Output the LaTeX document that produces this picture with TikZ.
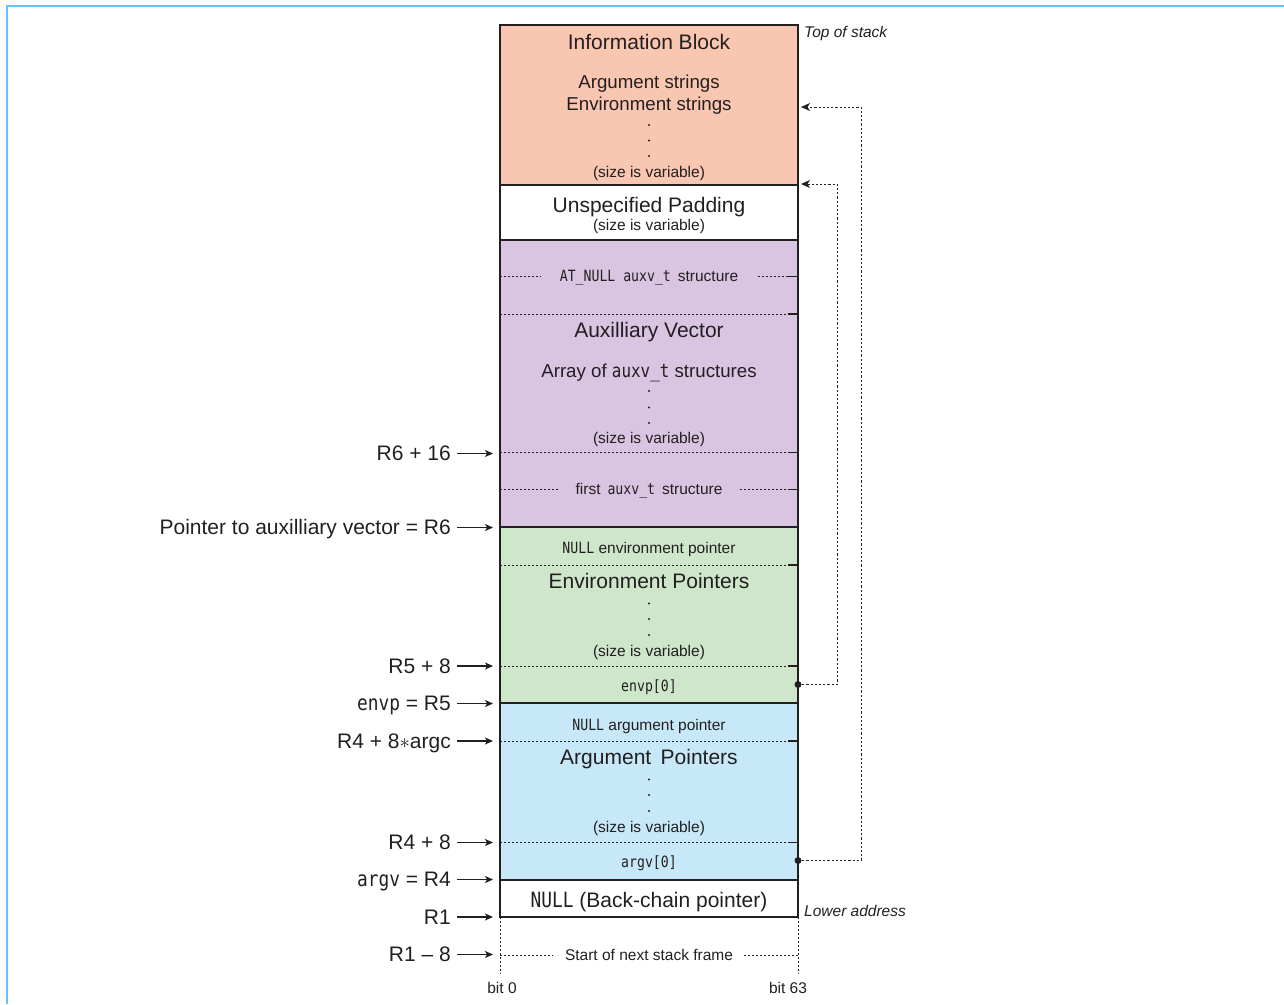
\documentclass[tikz,border=0pt]{standalone}
\usepackage{fontspec}
\setmainfont{Liberation Sans}
\newfontfamily\monof[FakeStretch=0.85]{DejaVu Sans Mono}
\usetikzlibrary{arrows.meta}
\definecolor{salmon}{HTML}{F9C6B1}
\definecolor{lilac}{HTML}{D9C4E1}
\definecolor{mint}{HTML}{CEE6CA}
\definecolor{sky}{HTML}{C6E8F8}
\definecolor{ink}{HTML}{231F20}
\definecolor{frameblue}{HTML}{66C0FF}
\newcommand\fbig{\fontsize{21}{24}\selectfont}
\newcommand\fmed{\fontsize{18.7}{22}\selectfont}
\newcommand\fsml{\fontsize{15.5}{18}\selectfont}
\begin{document}
\begin{tikzpicture}[x=1pt,y=-1pt,
  blk/.style={draw=ink,line width=1.9pt,rectangle,inner sep=0pt,outer sep=0pt,
     minimum width=298pt,anchor=north west},
  txt/.style={text=ink,inner sep=0pt,anchor=base},
  lbl/.style={text=ink,inner sep=0pt,anchor=base east,font=\fbig},
  sep/.style={draw=ink,line width=0.95pt,dash pattern=on 2.2pt off 1.8pt},
  tick/.style={draw=ink,line width=1.1pt},
  ptr/.style={draw=ink,line width=1.1pt,-{Stealth[length=8pt,width=7pt,inset=2pt]}},
  conn/.style={draw=ink,line width=1pt,dash pattern=on 2.2pt off 2pt,
     -{Stealth[length=9pt,width=8pt,inset=2.5pt]}},
  dotn/.style={circle,fill=ink,inner sep=0pt,minimum size=2.2pt},
  src/.style={circle,fill=ink,inner sep=0pt,minimum size=7pt},
]
\useasboundingbox (0,0) rectangle (1284,1004);
\draw[frameblue,line width=2.2pt] (7,1004) -- (7,6) -- (1284,6);

% blocks
\node[blk,fill=salmon,minimum height=160pt] (info) at (500,25) {};
\node[blk,fill=white,minimum height=55pt] (pad) at (500,185) {};
\node[blk,fill=lilac,minimum height=287pt] (aux) at (500,240) {};
\node[blk,fill=mint,minimum height=176pt] (env) at (500,527) {};
\node[blk,fill=sky,minimum height=177pt] (arg) at (500,703) {};
\node[blk,fill=white,minimum height=37pt] (null) at (500,880) {};

% information block
\node[txt,font=\fbig] (t1) at (649,49) {Information Block};
\node[txt,font=\fmed] (t2) at (649,88) {Argument strings};
\node[txt,font=\fmed] (t3) at (649,110) {Environment strings};
\foreach \y [count=\i] in {125,140.5,156} \node[dotn] (d1\i) at (649,\y) {};
\node[txt,font=\fsml] (t4) at (649,177) {(size is variable)};

% padding
\node[txt,font=\fbig] (t5) at (649,212.5) {Unspecified Padding};
\node[txt,font=\fsml] (t6) at (649,230.5) {(size is variable)};

% auxiliary vector
\node[txt,font=\fsml] (atnull) at (649,281) {{\monof AT\_NULL auxv\_t}\hspace{0.45em}structure};
\draw[sep] (500,276.5) -- (541,276.5);
\draw[sep] (758,276.5) -- (790,276.5);
\draw[tick] (788,276.5) -- (798,276.5);
\draw[sep] (500,314) -- (790,314);
\draw[tick] (788,314) -- (798,314);
\node[txt,font=\fbig] (t7) at (649,337.5) {Auxilliary Vector};
\node[txt,font=\fmed] (t8) at (649,377) {Array of {\monof auxv\_t} structures};
\foreach \y [count=\i] in {391,407.5,423} \node[dotn] (d2\i) at (649,\y) {};
\node[txt,font=\fsml] (t9) at (649,443.5) {(size is variable)};
\draw[sep] (500,452.5) -- (790,452.5);
\draw[tick] (788,452.5) -- (798,452.5);
\node[txt,font=\fsml] (first) at (649,494.5) {first\hspace{0.45em}{\monof auxv\_t}\hspace{0.45em}structure};
\draw[sep] (500,489.5) -- (558,489.5);
\draw[sep] (740,489.5) -- (790,489.5);
\draw[tick] (788,489.5) -- (798,489.5);

% environment pointers
\node[txt,font=\fsml] (t10) at (649,553.5) {{\monof NULL} environment pointer};
\draw[sep] (500,565) -- (790,565);
\draw[tick] (788,565) -- (798,565);
\node[txt,font=\fbig] (t11) at (649,588.5) {Environment Pointers};
\foreach \y [count=\i] in {603.5,619,635} \node[dotn] (d3\i) at (649,\y) {};
\node[txt,font=\fsml] (t12) at (649,656) {(size is variable)};
\draw[sep] (500,666) -- (790,666);
\draw[tick] (788,666) -- (798,666);
\node[txt,font=\fsml] (envp0) at (649,691.5) {\monof envp[0]};

% argument pointers
\node[txt,font=\fsml] (t13) at (649,730) {{\monof NULL} argument pointer};
\draw[sep] (500,741) -- (790,741);
\draw[tick] (788,741) -- (798,741);
\node[txt,font=\fbig] (t14) at (649,764.5) {Argument\hspace{0.45em}Pointers};
\foreach \y [count=\i] in {779.5,795,811} \node[dotn] (d4\i) at (649,\y) {};
\node[txt,font=\fsml] (t15) at (649,832) {(size is variable)};
\draw[sep] (500,842.5) -- (790,842.5);
\draw[tick] (788,842.5) -- (798,842.5);
\node[txt,font=\fsml] (argv0) at (649,867) {\monof argv[0]};

% back-chain
\node[txt,font=\fbig] (t16) at (649,907) {{\monof NULL} (Back-chain pointer)};

% below the frame
\draw[sep] (null.south west) -- (500,974);
\draw[sep] (null.south east) -- (798,974);
\node[txt,font=\fsml] (next) at (649,960) {Start of next stack frame};
\draw[sep] (500,955) -- (553,955);
\draw[sep] (744,955) -- (798,955);
\node[txt,font=\fsml] (bit0) at (502,993) {bit 0};
\node[txt,font=\fsml] (bit63) at (788,993) {bit 63};

% side notes
\node[txt,anchor=base west,font=\fsml\itshape] (tos) at (804,37) {Top of stack};
\node[txt,anchor=base west,font=\fsml\itshape] (low) at (804,916) {Lower address};

% left labels with arrows
\foreach \nm/\y/\t in {
  l1/453.5/{R6 + 16},
  l2/527.5/{Pointer to auxilliary vector = R6},
  l3/666/{R5 + 8},
  l4/703.5/{{\monof envp} = R5},
  l5/741/{R4 + 8$\ast$argc},
  l6/842.5/{R4 + 8},
  l7/879.5/{{\monof argv} = R4},
  l8/917/{R1},
  l9/954.5/{R1 -- 8}}{
  \node[lbl] (\nm) at (451,\y+7.3) {\t};
  \coordinate (\nm a) at (457,\y);
  \coordinate (\nm b) at (493,\y);
  \draw[ptr] (\nm a) -- (\nm b);
}

% pointer connectors
\node[src] (envdot) at (798,684.5) {};
\node[src] (argdot) at (798,860.5) {};
\coordinate (padtop) at (801,184);
\coordinate (envstr) at (801,107);
\draw[conn] (envdot.center) -- (837,684.5) |- (padtop);
\draw[conn] (argdot.center) -- (861,860.5) |- (envstr);
\end{tikzpicture}
\end{document}
